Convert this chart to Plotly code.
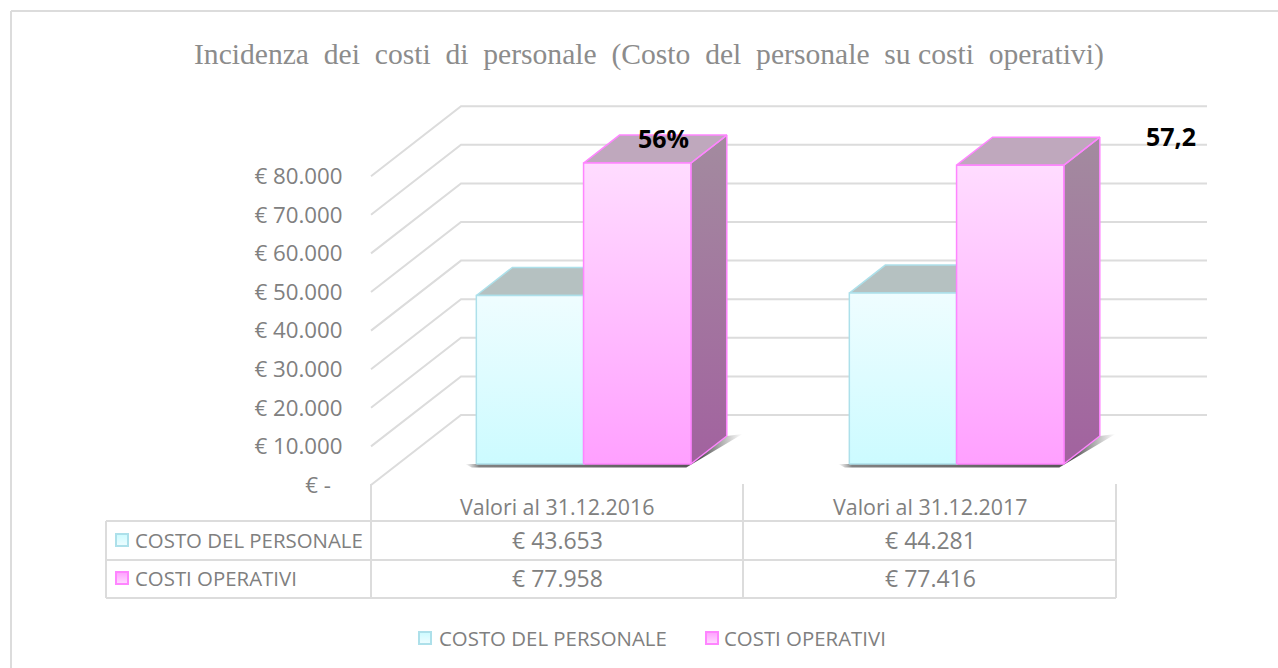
import plotly.graph_objects as go

# ---- data ----
categories = ["Valori al 31.12.2016", "Valori al 31.12.2017"]
costo_personale = [43653, 44281]
costi_operativi = [77958, 77416]
series_names = ["COSTO DEL PERSONALE", "COSTI OPERATIVI"]
rate_labels = ["56%", "57,2"]
tick_values = [0, 10000, 20000, 30000, 40000, 50000, 60000, 70000, 80000]
tick_labels = ["€ -\u00a0\u00a0", "€ 10.000", "€ 20.000", "€ 30.000", "€ 40.000",
               "€ 50.000", "€ 60.000", "€ 70.000", "€ 80.000"]
title = "Incidenza  dei  costi  di  personale  (Costo  del  personale  su costi  operativi)"

# ---- geometry of the oblique projection ----
W, H = 1278, 668
X0, CAT_W = 371.0, 373.0      # px of category origin, px per category
Y0, S = 485.0, 0.00386        # px of value 0 on the front plane, px per euro
DX, DY = 90.0, 70.0           # px shift from the front plane to the back wall
BAR_D0, BAR_D1 = 0.30, 0.70   # depth of bars' front and back faces
BAR_W = 0.2875                # category units

GRID = "#dcdcdc"
TXT = "#808080"


def px(x, d=0.0):
    return x + d * DX / CAT_W


def py(v, d=0.0):
    return v + d * DY / S


def fmt(v):
    return "€ " + f"{v:,}".replace(",", ".")


def pap_x(p):
    return p / W


def pap_y(p):
    return 1 - p / H


fig = go.Figure()


def poly(xs, ys, line=None, fill=None, grad=None, lw=1.5):
    kw = dict(x=xs + xs[:1], y=ys + ys[:1], mode="lines", fill="toself", showlegend=False,
              hoverinfo="skip", line=dict(color=line or "rgba(0,0,0,0)", width=lw))
    if grad:
        kw["fillgradient"] = grad
    else:
        kw["fillcolor"] = fill
    fig.add_trace(go.Scatter(**kw))


# gridlines: side wall and back wall
for t in tick_values:
    fig.add_trace(go.Scatter(
        x=[px(0, 0), px(0, 1), px(len(categories), 1)],
        y=[py(t, 0), py(t, 1), py(t, 1)],
        mode="lines", line=dict(color=GRID, width=2), showlegend=False, hoverinfo="skip"))

STYLES = [
    dict(front=("#ccfbff", "#effdff"), top="#b5c1c1", side=("#8aa6a8", "#a8b8ba"), edge="#ade0ea"),
    dict(front=("#ffa0ff", "#ffdcff"), top="#bfa8bd", side=("#a2629f", "#a38b9f"), edge="#ff85ff"),
]


def vgrad(c_low, c_high):
    return dict(type="vertical", colorscale=[[0, c_low], [1, c_high]])


def draw_bar(left, value, st):
    r = left + BAR_W
    # side face
    poly([px(r, BAR_D0), px(r, BAR_D1), px(r, BAR_D1), px(r, BAR_D0)],
         [py(0, BAR_D0), py(0, BAR_D1), py(value, BAR_D1), py(value, BAR_D0)],
         line=st["edge"], grad=vgrad(*st["side"]))
    # top face
    poly([px(left, BAR_D0), px(r, BAR_D0), px(r, BAR_D1), px(left, BAR_D1)],
         [py(value, BAR_D0), py(value, BAR_D0), py(value, BAR_D1), py(value, BAR_D1)],
         line=st["edge"], fill=st["top"])
    # front face
    poly([px(left, BAR_D0), px(r, BAR_D0), px(r, BAR_D0), px(left, BAR_D0)],
         [py(0, BAR_D0), py(0, BAR_D0), py(value, BAR_D0), py(value, BAR_D0)],
         line=st["edge"], grad=vgrad(*st["front"]))


SHADOW = dict(type="horizontal",
              colorscale=[[0, "rgba(150,150,150,0)"], [0.05, "rgba(130,130,130,1)"],
                          [0.85, "rgba(85,85,85,1)"], [1, "rgba(110,110,110,0)"]])

for i in range(len(categories)):
    c = i + 0.4975
    # floor shadow
    l, r = c - BAR_W, c + BAR_W
    poly([px(l - 0.03, BAR_D0), px(l, BAR_D0 - 0.05), px(r, BAR_D0 - 0.05),
          px(r + 0.035, BAR_D1 + 0.03), px(r, BAR_D1), px(l, BAR_D0)],
         [py(0, BAR_D0), py(0, BAR_D0 - 0.05), py(0, BAR_D0 - 0.05),
          py(0, BAR_D1 + 0.03), py(0, BAR_D1), py(0, BAR_D0)],
         grad=SHADOW)
    draw_bar(c - BAR_W, costo_personale[i], STYLES[0])
    draw_bar(c, costi_operativi[i], STYLES[1])

# legend entries (text from the legend; its swatch is drawn beside the text below)
for name in series_names:
    fig.add_trace(go.Scatter(x=[None], y=[None], mode="markers", name=name,
                             marker=dict(symbol="square", size=1, color="rgba(0,0,0,0)"), hoverinfo="skip"))

SWATCH = [
    dict(symbol="square", size=12, color="#ccfbff", gradient=dict(type="vertical", color="#effdff"),
         line=dict(color="#ade0ea", width=2)),
    dict(symbol="square", size=12, color="#ffa0ff", gradient=dict(type="vertical", color="#ffdcff"),
         line=dict(color="#ff85ff", width=2)),
]

SANS = "Open Sans"
annotations = []


def note(text, xp, yp, size=20.4, color=TXT, family=SANS, anchor="center", bold=False):
    annotations.append(dict(
        text=f"<b>{text}</b>" if bold else text, x=pap_x(xp), y=pap_y(yp), xref="paper", yref="paper",
        showarrow=False, xanchor=anchor, yanchor="middle",
        font=dict(size=size, color=color, family=family)))


note(title, 649, 54, size=29.6, color="#8c8c8c", family="Liberation Serif")

ROW_Y = [540, 578]
CENTERS = [557.5, 930]
for cx, cat in zip(CENTERS, categories):
    note(cat, cx, 506, size=21.4)
for row_y, name, vals, m in zip(ROW_Y, series_names, [costo_personale, costi_operativi], SWATCH):
    note(name, 133, row_y, anchor="left")
    for cx, v in zip(CENTERS, vals):
        note(fmt(v), cx, row_y, size=23)
    fig.add_trace(go.Scatter(
        x=[(122 - X0) / CAT_W], y=[(Y0 - row_y) / S], mode="markers", marker=m,
        showlegend=False, hoverinfo="skip"))

# legend swatches beside the legend text
for lx, m in zip([425, 712], SWATCH):
    fig.add_trace(go.Scatter(
        x=[(lx - X0) / CAT_W], y=[(Y0 - 638) / S], mode="markers", marker=m,
        showlegend=False, hoverinfo="skip"))

note(rate_labels[0], 664, 137.5, size=25, color="#000000", bold=True)
note(rate_labels[1], 1171, 135.5, size=25, color="#000000", bold=True)


def seg(x0, y0, x1, y1, width=2):
    return dict(type="line", xref="paper", yref="paper",
                x0=pap_x(x0), y0=pap_y(y0), x1=pap_x(x1), y1=pap_y(y1),
                line=dict(color=GRID, width=width))


shapes = [
    seg(11, 11, W, 11), seg(11, 11, 11, H),   # chart frame
    seg(106, 521, 1116, 521), seg(106, 560, 1116, 560), seg(106, 598, 1116, 598),  # table rows
    seg(106, 521, 106, 598), seg(371, 484, 371, 598), seg(743, 484, 743, 598), seg(1116, 484, 1116, 598),
]

fig.update_layout(
    width=W, height=H, margin=dict(l=0, r=0, t=0, b=0),
    paper_bgcolor="white", plot_bgcolor="white", shapes=shapes, annotations=annotations,
    hovermode=False,
    xaxis=dict(range=[-X0 / CAT_W, (W - X0) / CAT_W], visible=False, fixedrange=True),
    yaxis=dict(range=[(Y0 - H) / S, Y0 / S], anchor="free", position=X0 / W, side="left",
               tickmode="array", tickvals=tick_values, ticktext=tick_labels,
               ticks="outside", ticklen=24, tickcolor="rgba(0,0,0,0)",
               tickfont=dict(size=22.3, color=TXT, family=SANS),
               showgrid=False, zeroline=False, showline=False, fixedrange=True),
    legend=dict(orientation="h", x=pap_x(399), xanchor="left", y=pap_y(638), yanchor="middle",
                font=dict(size=20.4, color=TXT, family=SANS), bgcolor="rgba(0,0,0,0)",
                entrywidth=240, entrywidthmode="pixels",
                itemclick=False, itemdoubleclick=False),
)

fig.write_html("out.html", config={"displayModeBar": False},
               post_script="document.body.style.margin='0';")
